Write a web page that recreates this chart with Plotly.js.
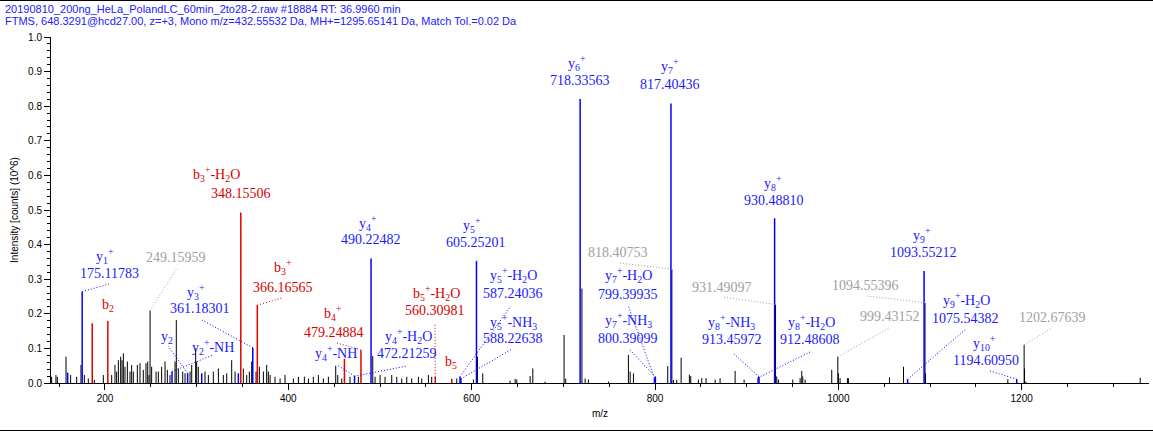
<!DOCTYPE html>
<html>
<head>
<meta charset="utf-8">
<script src="https://cdn.plot.ly/plotly-3.0.1.min.js"></script>
<style>
html,body{margin:0;padding:0;background:#fff;}
#chart{width:1153px;height:431px;}
</style>
</head>
<body>
<div id="chart"></div>
<script>
// ---------------- DATA ----------------
const headerLine1 = "20190810_200ng_HeLa_PolandLC_60min_2to28-2.raw #18884 RT: 36.9960 min";
const headerLine2 = "FTMS, 648.3291@hcd27.00, z=+3, Mono m/z=432.55532 Da, MH+=1295.65141 Da, Match Tol.=0.02 Da";
const xTitle = "m/z";
const yTitle = "Intensity [counts] (10^6)";

// unassigned peaks (black)
const otherMz = [141.8,146.5,148.0,157.5,162.5,169.1,173.8,177.5,181.8,188.4,198.2,207.3,210.9,212.7,214.6,217.1,218.6,220.0,221.8,224.4,227.3,229.1,230.9,235.3,238.2,241.8,244.7,246.6,248.0,249.15959,250.9,255.7,258.2,261.8,265.5,268.0,270.9,276.4,277.8,280.0,284.8,287.3,292.8,294.6,298.9,300.0,301.8,309.1,312.8,318.2,323.7,329.1,332.8,338.2,341.9,350.9,354.6,357.5,360.0,364.8,368.4,372.8,376.4,378.2,380.1,385.5,391.0,396.4,405.5,411.0,417.5,421.9,427.3,432.8,438.2,443.7,451.7,453.9,458.3,467.3,476.4,492.1,494.6,500.1,505.5,512.8,518.3,523.7,529.2,534.6,541.9,545.5,552.8,556.4,583.7,601.9,606.3,612.1,641.9,647.4,649.2,663.8,666.7,680.1,700.8,702.6,720.3,723.8,727.4,749.2,771.0,772.9,776.5,813.9,818.40753,820.1,823.7,828.5,837.5,839.0,847.4,851.0,855.7,865.6,871.0,887.4,897.2,931.49097,932.8,934.7,950.3,958.3,960.1,961.2,963.8,992.8,999.43152,1000.1,1001.9,1009.9,1011.0,1055.8,1071.1,1094.55396,1095.1,1184.9,1202.67639,1203.1,1204.5,1329.3];
const otherInt = [0.018,0.023,0.018,0.076,0.023,0.018,0.052,0.023,0.013,0.009,0.023,0.023,0.052,0.033,0.066,0.076,0.066,0.086,0.047,0.062,0.033,0.052,0.033,0.052,0.057,0.038,0.057,0.062,0.023,0.209,0.047,0.033,0.033,0.047,0.062,0.038,0.023,0.062,0.182,0.042,0.033,0.028,0.033,0.052,0.100,0.062,0.047,0.033,0.023,0.033,0.042,0.023,0.028,0.066,0.033,0.042,0.023,0.033,0.062,0.033,0.047,0.033,0.052,0.033,0.023,0.018,0.013,0.023,0.013,0.018,0.018,0.013,0.018,0.023,0.013,0.018,0.050,0.023,0.013,0.018,0.018,0.078,0.018,0.023,0.018,0.023,0.018,0.013,0.018,0.013,0.018,0.013,0.023,0.018,0.013,0.010,0.076,0.028,0.007,0.012,0.010,0.020,0.042,0.004,0.139,0.013,0.273,0.013,0.010,0.004,0.081,0.033,0.028,0.049,0.329,0.009,0.009,0.073,0.024,0.020,0.010,0.014,0.014,0.010,0.014,0.035,0.010,0.227,0.019,0.010,0.010,0.014,0.035,0.019,0.010,0.038,0.076,0.028,0.014,0.014,0.014,0.016,0.047,0.232,0.028,0.011,0.110,0.042,0.004,0.015];

// y-type fragment peaks (blue)
const yIonMz  = [159.3,175.11783,273.13,290.16,305.5,345.5,361.18301,472.21259,490.22482,587.24036,588.22638,605.25201,718.33563,799.39935,800.39099,817.40436,912.48608,913.45972,930.48810,1075.54382,1093.55212,1194.60950];
const yIonInt = [0.030,0.264,0.033,0.028,0.028,0.028,0.102,0.020,0.360,0.018,0.012,0.353,0.821,0.014,0.018,0.808,0.015,0.018,0.476,0.011,0.324,0.011];

// b-type fragment peaks (red)
const bIonMz  = [186.1,203.10,348.15506,366.16565,461.2,479.24884,560.30981,578.3];
const bIonInt = [0.173,0.179,0.493,0.225,0.070,0.095,0.018,0.012];

// peak labels
const labelName = ["y<sub>1</sub><sup>+</sup>","b<sub>2</sub>","","y<sub>3</sub><sup>+</sup>","y<sub>2</sub>","y<sub>2</sub><sup>+</sup>-NH",
  "b<sub>3</sub><sup>+</sup>-H<sub>2</sub>O","b<sub>3</sub><sup>+</sup>","b<sub>4</sub><sup>+</sup>","y<sub>4</sub><sup>+</sup>-NH","y<sub>4</sub><sup>+</sup>",
  "y<sub>4</sub><sup>+</sup>-H<sub>2</sub>O","b<sub>5</sub><sup>+</sup>-H<sub>2</sub>O","b<sub>5</sub>","y<sub>5</sub><sup>+</sup>",
  "y<sub>5</sub><sup>+</sup>-H<sub>2</sub>O","y<sub>5</sub><sup>+</sup>-NH<sub>3</sub>","y<sub>6</sub><sup>+</sup>","y<sub>7</sub><sup>+</sup>","",
  "y<sub>7</sub><sup>+</sup>-H<sub>2</sub>O","y<sub>7</sub><sup>+</sup>-NH<sub>3</sub>","y<sub>8</sub><sup>+</sup>","","y<sub>8</sub><sup>+</sup>-NH<sub>3</sub>",
  "y<sub>8</sub><sup>+</sup>-H<sub>2</sub>O","","","y<sub>9</sub><sup>+</sup>","y<sub>9</sub><sup>+</sup>-H<sub>2</sub>O","","y<sub>10</sub><sup>+</sup>"];
const labelValue = ["175.11783","","249.15959","361.18301","","","348.15506","366.16565","479.24884","","490.22482","472.21259","560.30981","",
  "605.25201","587.24036","588.22638","718.33563","817.40436","818.40753","799.39935","800.39099","930.48810","931.49097","913.45972",
  "912.48608","1094.55396","999.43152","1093.55212","1075.54382","1202.67639","1194.60950"];
const labelPeakMz = [175.11783,203.10,249.15959,361.18301,290.16,273.13,348.15506,366.16565,479.24884,472.21259,490.22482,472.21259,560.30981,578.3,
  605.25201,587.24036,588.22638,718.33563,817.40436,818.40753,799.39935,800.39099,930.48810,931.49097,913.45972,
  912.48608,1094.55396,999.43152,1093.55212,1075.54382,1202.67639,1194.60950];
const labelKind = ["y","b","u","y","y","y","b","b","b","y","y","y","b","b","y","y","y","y","y","u","y","y","y","u","y","y","u","u","y","y","u","y"];

// ---------------- LAYOUT GEOMETRY (pixels) ----------------
const W = 1153, H = 431;
const M = {l:51, r:4, t:37, b:48};
const xRange = [141.1, 1338.9];
const yRange = [0, 1.0];
const plotW = W - M.l - M.r, plotH = H - M.t - M.b;
const px2x = p => xRange[0] + (p - M.l) / plotW * (xRange[1] - xRange[0]);
const py2y = p => yRange[0] + (H - M.b - p) / plotH * (yRange[1] - yRange[0]);
const px2paper = p => (p - M.l) / plotW;
const py2paper = p => (H - M.b - p) / plotH;

// label placement: [nameX, nameY, valueX, valueY, connectorEndX, connectorEndY] in page pixels
const labelPos = [
  [105,256,109,273,109,284],
  [108,305,null,null,null,null],
  [null,null,176,257,177,268],
  [196,292,200,308,202,320],
  [167,337,null,null,168,346],
  [213,347,null,null,213,355],
  [216,174,241,193,null,null],
  [283,267,283,287,282,298],
  [333,313,334,332,337,343],
  [336,353,null,null,337,365],
  [368,223,371,239,null,null],
  [408,336,407,353,407,366],
  [436,293,435,310,435,324],
  [451,362,null,null,null,null],
  [472,225,476,242,null,null],
  [513,275,513,293,511,306],
  [513,322,513,338,512,349],
  [577,63,580,80,null,null],
  [670,66,670,84,null,null],
  [null,null,618,252,620,263],
  [628,275,628,294,628,305],
  [628,320,628,338,629,349],
  [773,183,774,200,null,null],
  [null,null,722,287,723,297],
  [731,322,732,339,733,353],
  [811,322,810,339,810,352],
  [null,null,865,285,867,296],
  [null,null,890,316,889,328],
  [922,235,923,252,null,null],
  [966,300,965,318,966,329],
  [null,null,1052,317,1052,328],
  [984,343,986,360,990,371]
];

const COLORS = {u:'#000000', y:'#0000ff', b:'#e00000'};
const TEXTCOL = {u:'#a0a0a0', y:'#1a1aff', b:'#d60000'};

function stems(mz, inten) {
  const x = [], y = [];
  mz.forEach((m, i) => { x.push(m, m, null); y.push(0, inten[i], null); });
  return {x, y};
}
function peakHeight(m) {
  const all = [[otherMz,otherInt],[yIonMz,yIonInt],[bIonMz,bIonInt]];
  let best = null, bd = 1e9;
  all.forEach(([a, b]) => a.forEach((v, i) => { const d = Math.abs(v - m); if (d < bd) { bd = d; best = b[i]; } }));
  return best;
}

const sO = stems(otherMz, otherInt), sY = stems(yIonMz, yIonInt), sB = stems(bIonMz, bIonInt);
const traces = [
  {x:sO.x, y:sO.y, mode:'lines', type:'scatter', line:{color:COLORS.u, width:1}, hoverinfo:'skip', name:'other'},
  {x:sB.x, y:sB.y, mode:'lines', type:'scatter', line:{color:COLORS.b, width:1.5}, hoverinfo:'skip', name:'b ions'},
  {x:sY.x, y:sY.y, mode:'lines', type:'scatter', line:{color:COLORS.y, width:1.5}, hoverinfo:'skip', name:'y ions'}
];

const annotations = [];
const shapes = [];
labelName.forEach((nm, i) => {
  const p = labelPos[i], k = labelKind[i];
  const font = {family:'"Liberation Serif","Times New Roman",serif', size:14, color:TEXTCOL[k]};
  if (nm && p[0] !== null) annotations.push({x:px2x(p[0]), y:py2y(p[1]), xref:'x', yref:'y', text:nm, showarrow:false, xanchor:'center', yanchor:'middle', font});
  if (labelValue[i] && p[2] !== null) annotations.push({x:px2x(p[2]), y:py2y(p[3]), xref:'x', yref:'y', text:labelValue[i], showarrow:false, xanchor:'center', yanchor:'middle', font});
  if (p[4] !== null) {
    const m = labelPeakMz[i];
    shapes.push({type:'line', xref:'x', yref:'y', x0:m, y0:peakHeight(m), x1:px2x(p[4]), y1:py2y(p[5]),
      line:{color: k==='u' ? '#a0a0a0' : (k==='y' ? '#0000ff' : '#d00000'), width:1, dash:'1px,2px'}});
  }
});

// header text
const hdrFont = {family:'"Liberation Sans", Arial, sans-serif', size:11, color:'#2020ff'};
annotations.push({xref:'paper', yref:'paper', x:px2paper(3), y:py2paper(9), xanchor:'left', yanchor:'middle', text:headerLine1, showarrow:false, font:hdrFont});
annotations.push({xref:'paper', yref:'paper', x:px2paper(3), y:py2paper(21), xanchor:'left', yanchor:'middle', text:headerLine2, showarrow:false, font:hdrFont});

// frame lines at top and bottom of the image
shapes.push({type:'line', xref:'paper', yref:'paper', x0:px2paper(0), x1:px2paper(W), y0:py2paper(0.5), y1:py2paper(0.5), line:{color:'#000', width:1}});
shapes.push({type:'line', xref:'paper', yref:'paper', x0:px2paper(0), x1:px2paper(W), y0:py2paper(430.5), y1:py2paper(430.5), line:{color:'#000', width:1}});

const tickFont = {family:'"Liberation Sans", Arial, sans-serif', size:10, color:'#000'};
const layout = {
  width:W, height:H, margin:M, paper_bgcolor:'#fff', plot_bgcolor:'#fff', showlegend:false,
  xaxis:{range:xRange, showgrid:false, zeroline:false, showline:true, linecolor:'#000', linewidth:1,
    ticks:'outside', ticklen:6, tickcolor:'#000', tick0:0, dtick:200, tickfont:tickFont,
    minor:{dtick:50, ticks:'outside', ticklen:3, tickcolor:'#000'},
    title:{text:xTitle, font:tickFont, standoff:6}},
  yaxis:{range:yRange, showgrid:false, zeroline:false, showline:true, linecolor:'#000', linewidth:1,
    ticks:'outside', ticklen:6, tickcolor:'#000', dtick:0.1, tickformat:'.1f', tickfont:tickFont,
    minor:{dtick:0.02, ticks:'outside', ticklen:3, tickcolor:'#000'},
    title:{text:yTitle, font:tickFont, standoff:7}},
  annotations, shapes
};
Plotly.newPlot('chart', traces, layout, {displayModeBar:false, staticPlot:true});
</script>
</body>
</html>
